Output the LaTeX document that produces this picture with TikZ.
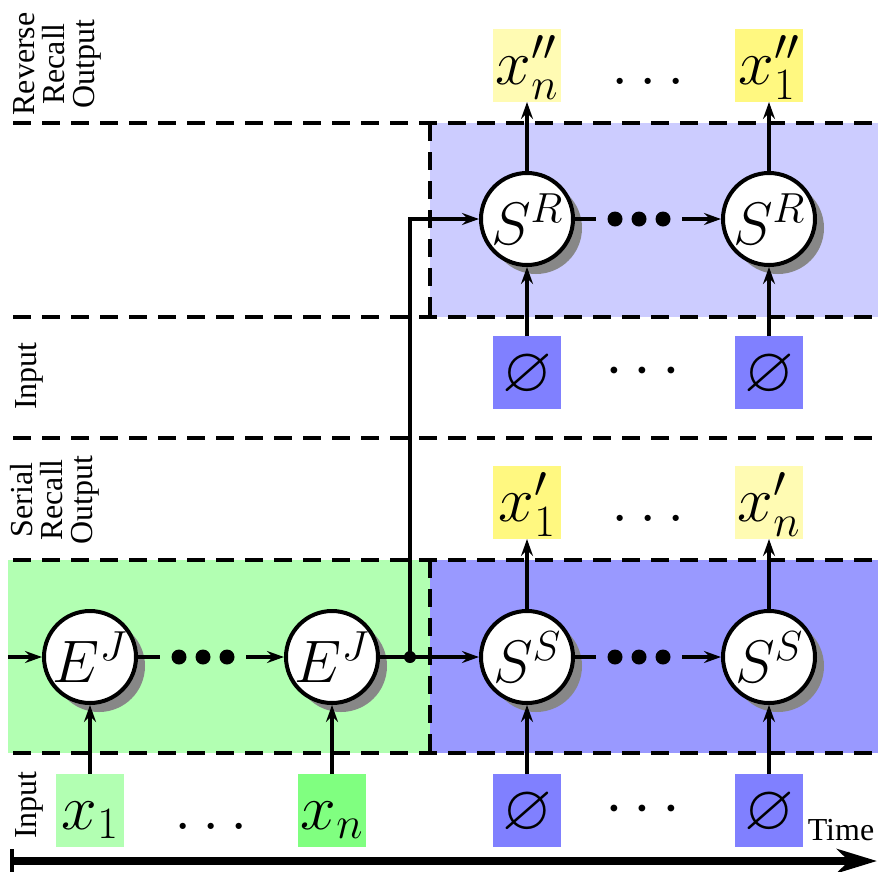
\documentclass[tikz,border=0pt]{standalone}
\usepackage{fix-cm}
\usepackage[no-math]{fontspec}
\setmainfont{Liberation Serif}
\usepackage{amsmath,amssymb}
\usetikzlibrary{positioning,arrows.meta,shapes,shadows,calc}
\tikzstyle{cbox}=[circle, draw=black, fill=white, line width=4pt, minimum size=92pt,
                  inner sep=0pt, font=\fontsize{60}{60}\selectfont,
                  drop shadow={fill=black!47, opacity=1, shadow xshift=9pt, shadow yshift=-9pt}]
\tikzstyle{ibox}=[rectangle, inner sep=0pt, outer sep=0pt, minimum width=68pt,
                  text height=55pt, text depth=18pt, font=\fontsize{64}{64}\selectfont]
\tikzstyle{dotrow}=[rectangle, inner sep=0pt, outer sep=0pt, minimum width=86pt, minimum height=14pt]
\tikzstyle{pline}=[-, line width=4pt]
\tikzstyle{parrow}=[-{Stealth[length=17pt,width=12pt,inset=6pt]}, line width=4pt]
\tikzstyle{pdash}=[line width=4.5pt, dash pattern=on 18pt off 11pt]
\tikzstyle{rlabel}=[rotate=90, align=center, inner sep=0pt, font=\fontsize{32}{30}\selectfont]
\begin{document}
\begin{tikzpicture}[x=1pt, y=-1pt]
\useasboundingbox (0,0) rectangle (878,871);

% bands
\fill[blue!20] (430,123) rectangle (878,317);
\fill[blue!40] (430,560) rectangle (878,753);
\fill[green!30] (8,560) rectangle (430,753);
\foreach \yy in {123,317,438,560,753}
  \draw[pdash] (13,\yy) -- (878,\yy);
\draw[pdash] (430,123) -- (430,317);
\draw[pdash] (430,560) -- (430,753);

% row labels
\node (LREV) [rlabel] at (57,64) {Reverse\\Recall\\Output};
\node (LINR) [rlabel] at (29,376) {Input};
\node (LSER) [rlabel] at (55,500) {Serial\\Recall\\Output};
\node (LINS) [rlabel] at (29,805) {Input};

% encoder
\node (EJONE) [cbox] at (90,657) {$E^J$};
\node (DOTSE) [dotrow, right=22pt of EJONE] {};
\node (EJN) [cbox, right=38pt of DOTSE] {$E^J$};
\coordinate [left=34pt of EJONE] (INE);
\coordinate [right=30pt of EJN] (JUNC);
\node (XONE) [ibox, fill=green!30, below=69pt of EJONE] {$x_1$};
\node (XN) [ibox, fill=green!50, below=69pt of EJN] {$x_n$};

% serial recall
\node (SSONE) [cbox, right=69pt of JUNC] {$S^S$};
\node (DOTSS) [dotrow, right=21pt of SSONE] {};
\node (SSN) [cbox, right=39pt of DOTSS] {$S^S$};
\node (ESSONE) [ibox, fill=blue!50, below=69pt of SSONE] {$\varnothing$};
\node (ESSN) [ibox, fill=blue!50, below=69pt of SSN] {$\varnothing$};
\node (XPONE) [ibox, fill=yellow!50, above=70pt of SSONE] {$x'_1$};
\node (XPN) [ibox, fill=yellow!30, above=70pt of SSN] {$x'_n$};

% reverse recall
\node (SRONE) [cbox, above=342pt of SSONE] {$S^R$};
\node (DOTSR) [dotrow, right=21pt of SRONE] {};
\node (SRN) [cbox, right=39pt of DOTSR] {$S^R$};
\node (ESRONE) [ibox, fill=blue!50, below=69pt of SRONE] {$\varnothing$};
\node (ESRN) [ibox, fill=blue!50, below=69pt of SRN] {$\varnothing$};
\node (XPPN) [ibox, fill=yellow!30, above=69pt of SRONE] {$x''_n$};
\node (XPPONE) [ibox, fill=yellow!50, above=69pt of SRN] {$x''_1$};

% small ellipses
\node (LDX) [anchor=base, font=\fontsize{64}{64}\selectfont] at ($(XONE.base)!0.5!(XN.base)$) {$\ldots$};
\node (LDES) [font=\fontsize{64}{64}\selectfont] at ($(ESSONE)!0.5!(ESSN)$) {$\cdots$};
\node (LDXP) [anchor=base, font=\fontsize{64}{64}\selectfont] at ($(XPONE.base)!0.5!(XPN.base)$) {$\ldots$};
\node (LDER) [font=\fontsize{64}{64}\selectfont] at ($(ESRONE)!0.5!(ESRN)$) {$\cdots$};
\node (LDXPP) [anchor=base, font=\fontsize{64}{64}\selectfont] at ($(XPPN.base)!0.5!(XPPONE.base)$) {$\ldots$};

% big dots
\foreach \n in {DOTSE,DOTSS,DOTSR}
  \foreach \d in {-24,0,24}
    \fill ([xshift=\d pt]\n.center) circle (7.5pt);

% connectors
\draw[parrow] (INE) -- (EJONE);
\draw[pline] (EJONE) -- (DOTSE);
\draw[parrow] (DOTSE) -- (EJN);
\draw[pline] (EJN) -- (JUNC);
\fill (JUNC) circle (6pt);
\draw[parrow] (JUNC) -- (SSONE);
\draw[parrow] (JUNC) |- (SRONE);
\draw[pline] (SSONE) -- (DOTSS);
\draw[parrow] (DOTSS) -- (SSN);
\draw[pline] (SRONE) -- (DOTSR);
\draw[parrow] (DOTSR) -- (SRN);
\draw[parrow] (XONE) -- (EJONE);
\draw[parrow] (XN) -- (EJN);
\draw[parrow] (ESSONE) -- (SSONE);
\draw[parrow] (ESSN) -- (SSN);
\draw[parrow] (ESRONE) -- (SRONE);
\draw[parrow] (ESRN) -- (SRN);
\draw[parrow] (SSONE) -- (XPONE);
\draw[parrow] (SSN) -- (XPN);
\draw[parrow] (SRONE) -- (XPPN);
\draw[parrow] (SRN) -- (XPPONE);

% time axis
\node (TIME) [inner sep=0pt, font=\fontsize{32}{32}\selectfont] at (841,830) {Time};
\coordinate (TSTART) at (10,861);
\coordinate (TEND) at (877,861);
\draw[line width=8pt, {Bar[width=24pt,line width=3.5pt]}-{Stealth[length=40pt,width=24pt,inset=12pt]}] (TSTART) -- (TEND);

\end{tikzpicture}
\end{document}
